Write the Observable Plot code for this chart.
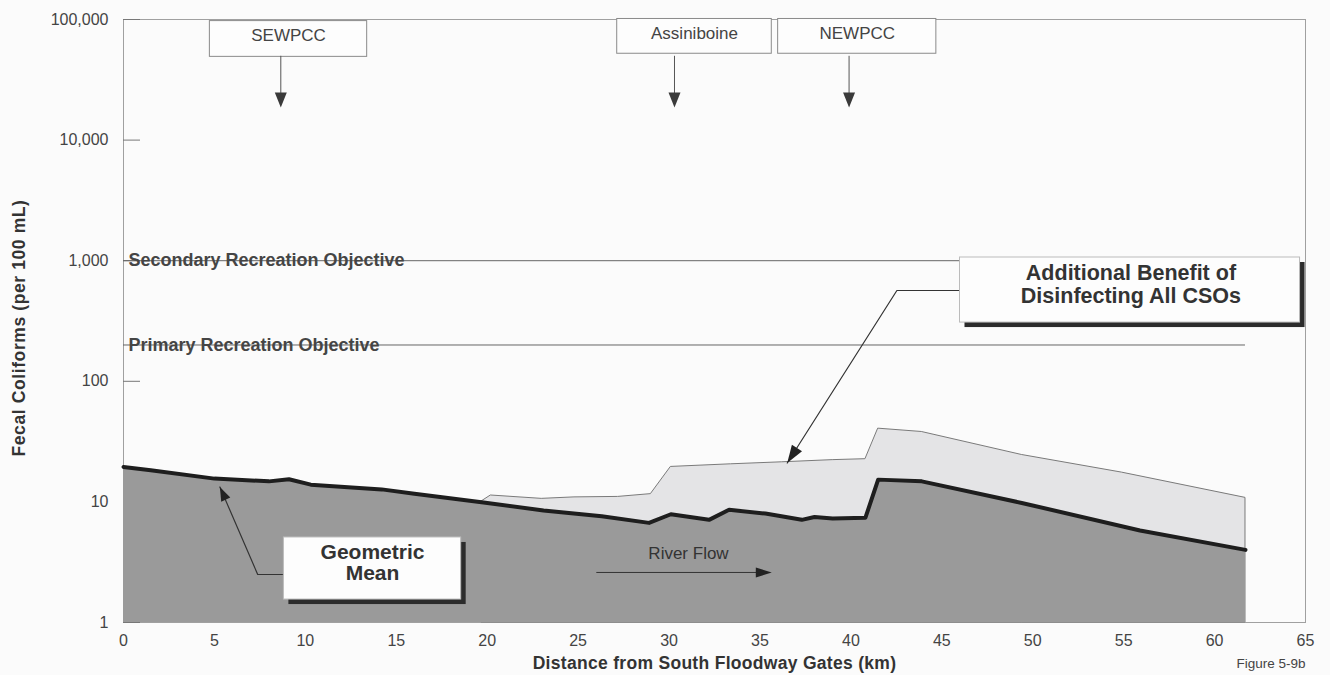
<!DOCTYPE html>
<html>
<head>
<meta charset="utf-8">
<script src="https://cdn.jsdelivr.net/npm/d3@7"></script>
<script src="https://cdn.jsdelivr.net/npm/@observablehq/plot@0.6"></script>
<style>
  html, body { margin: 0; padding: 0; background: #fbfbfb; }
  #chart { width: 1330px; height: 675px; }
</style>
</head>
<body>
<div id="chart"></div>
<script>
// ---------- data ----------
const meanKm  = [0, 1.5, 5, 8, 9.1, 10.3, 14.2, 16, 19.8, 23.1, 26.3, 28.9, 30.1, 32.2, 33.3, 35.3, 37.3, 38, 39, 40.8, 41.5, 43.9, 49.4, 55.9, 61.7];
const meanVal = [19.5, 18.3, 15.6, 14.8, 15.4, 13.9, 12.7, 11.7, 9.9, 8.5, 7.6, 6.7, 7.9, 7.1, 8.6, 8.0, 7.1, 7.5, 7.3, 7.4, 15.3, 14.8, 9.8, 5.8, 4.0];

const csoKm  = [19.7, 20.2, 23.0, 24.8, 27.2, 29.0, 30.1, 33.4, 36.2, 39.0, 40.8, 41.5, 43.9, 49.4, 54.9, 61.7];
const csoVal = [10.1, 11.3, 10.6, 10.9, 11.0, 11.6, 19.5, 20.5, 21.3, 22.2, 22.6, 40.5, 38.0, 24.5, 17.5, 10.8];

const objectiveNames  = ["Secondary Recreation Objective", "Primary Recreation Objective"];
const objectiveValues = [1000, 200];

const plantNames = ["SEWPCC", "Assiniboine", "NEWPCC"];
const plantKm    = [8.65, 30.3, 39.9];

const xTicks = [0, 5, 10, 15, 20, 25, 30, 35, 40, 45, 50, 55, 60, 65];
const yTicks = [1, 10, 100, 1000, 10000, 100000];

const xLabel = "Distance from South Floodway Gates (km)";
const yLabel = "Fecal Coliforms (per 100 mL)";
const figureLabel = "Figure 5-9b";

// ---------- derived tables ----------
const mean = meanKm.map((k, i) => ({km: k, v: meanVal[i]}));
const cso = csoKm.map((k, i) => ({km: k, v: csoVal[i]}));
const objectives = objectiveNames.map((n, i) => ({name: n, v: objectiveValues[i]}));
const plants = plantNames.map((n, i) => ({name: n, km: plantKm[i]}));

// ---------- annotation layout (styling) ----------
const plantBox = [
  {x1: 4.75, x2: 13.4, y1: 49000, y2: 97000, ty: 73600},
  {x1: 27.15, x2: 35.65, y1: 52000, y2: 101000, ty: 76500},
  {x1: 36.0, x2: 44.7, y1: 52000, y2: 101000, ty: 76500}
].map((b, i) => ({...b, ...plants[i]}));

const geoBox = {x1: 8.82, x2: 18.57, y1: 1.55, y2: 5.07};
const benBox = {x1: 46.0, x2: 64.7, y1: 307, y2: 1063};
const geoLeader = [{km: 8.82, v: 2.5}, {km: 7.38, v: 2.5}, {km: 5.3, v: 13.3}];
const benLeader = [{km: 46.0, v: 566}, {km: 42.53, v: 566}, {km: 36.5, v: 21}];

function head(ux, uy, len, hw) {
  const n = Math.hypot(ux, uy); ux /= n; uy /= n;
  return {
    draw(ctx) {
      const bx = -ux * len, by = -uy * len;
      ctx.moveTo(0, 0);
      ctx.lineTo(bx - uy * hw, by + ux * hw);
      ctx.lineTo(bx + uy * hw, by - ux * hw);
      ctx.closePath();
    }
  };
}

const font = "'Liberation Sans', Arial, Helvetica, sans-serif";

const chart = Plot.plot({
  width: 1330,
  height: 675,
  marginLeft: 123,
  marginRight: 25,
  marginTop: 19,
  marginBottom: 53,
  style: {fontFamily: font, fontSize: "16px", background: "#fbfbfb", color: "#444"},
  x: {domain: [0, 65]},
  y: {type: "log", domain: [1, 100000]},
  marks: [
    Plot.frame({stroke: "#a0a0a0", strokeWidth: 1}),
    Plot.axisY({ticks: yTicks, tickFormat: d3.format(","), tickSize: -17, tickPadding: 32, label: null, stroke: "#777"}),
    Plot.axisX({ticks: xTicks, tickSize: 0, tickPadding: 12, label: null}),
    // objective lines
    Plot.ruleY(objectives, {y: "v", x1: 0, x2: 61.7, stroke: "#666", strokeWidth: 1}),
    Plot.text(objectives, {x: 0, y: "v", text: "name", textAnchor: "start", dx: 5, fontWeight: "bold", fontSize: 18, fill: "#454545"}),
    // areas
    Plot.areaY(cso, {x: "km", y1: 1, y2: "v", fill: "#e4e4e6", stroke: "#7a7a7a", strokeWidth: 1}),
    Plot.areaY(mean, {x: "km", y1: 1, y2: "v", fill: "#9a9a9a"}),
    Plot.line(mean, {x: "km", y: "v", stroke: "#1e1e1e", strokeWidth: 4, strokeLinejoin: "round"}),
    // plant labels
    Plot.rect(plantBox, {x1: "x1", x2: "x2", y1: "y1", y2: "y2", fill: "#fdfdfd", stroke: "#8a8a8a", strokeWidth: 1}),
    Plot.text(plantBox, {x: d => (d.x1 + d.x2) / 2, y: "ty", text: "name", fontSize: 17, fill: "#444"}),
    Plot.link(plants, {x1: "km", x2: "km", y1: 50000, y2: 22000, stroke: "#555", strokeWidth: 1}),
    Plot.dot(plants, {x: "km", y: 18600, symbol: head(0, 1, 15, 6), fill: "#3a3a3a", stroke: "none", r: 5}),
    // geometric mean box
    Plot.line(geoLeader, {x: "km", y: "v", stroke: "#333", strokeWidth: 1.2}),
    Plot.dot([geoLeader[2]], {x: "km", y: "v", symbol: head(-42, -91, 14, 5), fill: "#222", stroke: "none", r: 5}),
    Plot.rect([geoBox], {x1: "x1", x2: "x2", y1: "y1", y2: "y2", fill: "#2c2c2c", dx: 5, dy: 5}),
    Plot.rect([geoBox], {x1: "x1", x2: "x2", y1: "y1", y2: "y2", fill: "#fdfdfd", stroke: "#bbb"}),
    Plot.text([geoBox], {x: d => (d.x1 + d.x2) / 2, y: 3.14, text: () => "Geometric\nMean", fontWeight: "bold", fontSize: 21, lineHeight: 1.02, fill: "#333"}),
    // additional benefit box
    Plot.line(benLeader, {x: "km", y: "v", stroke: "#333", strokeWidth: 1.2}),
    Plot.dot([benLeader[2]], {x: "km", y: "v", symbol: head(-113, 176, 18, 6), fill: "#222", stroke: "none", r: 5}),
    Plot.rect([benBox], {x1: "x1", x2: "x2", y1: "y1", y2: "y2", fill: "#2c2c2c", dx: 5, dy: 5}),
    Plot.rect([benBox], {x1: "x1", x2: "x2", y1: "y1", y2: "y2", fill: "#fdfdfd", stroke: "#bbb"}),
    Plot.text([benBox], {x: 55.4, y: 641, text: () => "Additional Benefit of\nDisinfecting All CSOs", fontWeight: "bold", fontSize: 21.5, lineHeight: 1.1, fill: "#333"}),
    // river flow
    Plot.text(["River Flow"], {x: 31.07, y: 3.73, text: d => d, fontSize: 17, fill: "#333"}),
    Plot.link([0], {x1: 26.0, x2: 35.0, y1: 2.6, y2: 2.6, stroke: "#333", strokeWidth: 1}),
    Plot.dot([0], {x: 35.65, y: 2.6, symbol: head(1, 0, 16, 5), fill: "#222", stroke: "none", r: 5}),
    // titles
    Plot.text([yLabel], {frameAnchor: "left", textAnchor: "middle", lineAnchor: "middle", dx: -104, dy: 7, rotate: -90, text: d => d, fontWeight: "bold", fontSize: 17.5, fill: "#333", className: "ytitle"}),
    Plot.text([xLabel], {frameAnchor: "bottom", textAnchor: "middle", lineAnchor: "middle", dy: 41, text: d => d, fontWeight: "bold", fontSize: 17.5, fill: "#333", className: "xtitle"}),
    Plot.text([figureLabel], {frameAnchor: "bottom-right", textAnchor: "end", lineAnchor: "middle", dy: 41, text: d => d, fontSize: 13.5, fill: "#444"})
  ]
});
// slight tracking for the wide scanned title lettering
d3.select(chart).selectAll(".ytitle text").attr("letter-spacing", "0.6px");
d3.select(chart).selectAll(".xtitle text").attr("letter-spacing", "0.3px");
document.getElementById("chart").appendChild(chart);
</script>
</body>
</html>
